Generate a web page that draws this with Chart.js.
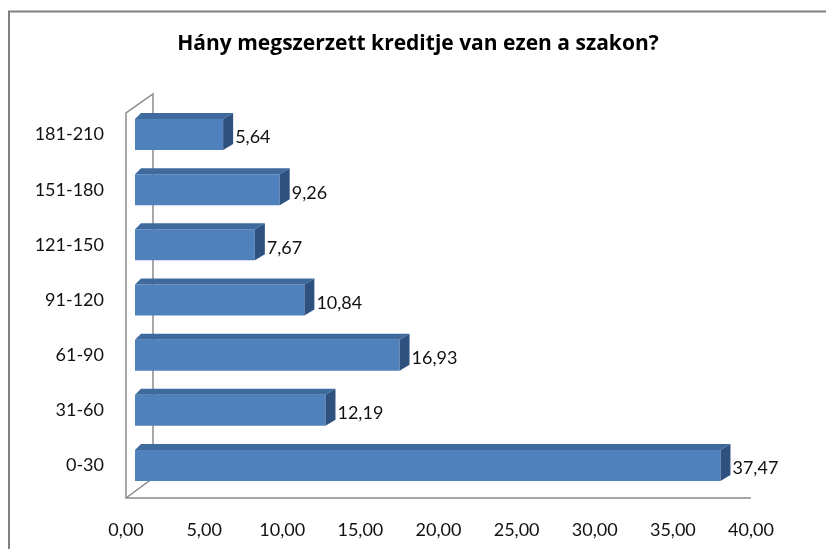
<!DOCTYPE html>
<html lang="hu">
<head>
    <meta charset="UTF-8">
    <title>Kreditek</title>
    <script src="https://cdn.jsdelivr.net/npm/chart.js"></script>
    <style>
        body { margin: 0; background: #fff; }
        #chart { display: block; }
    </style>
</head>
<body>
    <canvas id="chart" width="826" height="549"></canvas>

    <script>
        var chartTitle = 'Hány megszerzett kreditje van ezen a szakon?';
        var categories = ['181-210', '151-180', '121-150', '91-120', '61-90', '31-60', '0-30'];
        var values = [5.64, 9.26, 7.67, 10.84, 16.93, 12.19, 37.47];
        var xMin = 0, xMax = 40, xStep = 5;

        var fontFamily = 'Lato, "Open Sans", sans-serif';
        var depth = { shift: 9, dx: 10, dy: -6 };

        function huNum(v) {
            return v.toFixed(2).replace('.', ',');
        }

        // frame, title and the 3d walls/faces excel draws
        var excel3d = {
            id: 'excel3d',
            beforeDraw: function (chart) {
                var c = chart.ctx;
                c.save();
                c.strokeStyle = '#808080';
                c.lineWidth = 2;
                c.beginPath();
                c.moveTo(9, 549);
                c.lineTo(9, 11.5);
                c.lineTo(826, 11.5);
                c.stroke();

                c.fillStyle = '#000';
                c.font = 'bold 21px "Open Sans", sans-serif';
                c.textAlign = 'center';
                c.textBaseline = 'middle';
                c.fillText(chartTitle, 418, 44);
                c.restore();
            },
            beforeDatasetsDraw: function (chart) {
                var c = chart.ctx, a = chart.chartArea;
                c.save();
                c.strokeStyle = '#8c8c8c';
                c.lineWidth = 1.5;
                c.beginPath();
                c.moveTo(a.right, a.bottom + 5);
                c.lineTo(a.left, a.bottom + 5);
                c.lineTo(a.left, a.top + 6);
                c.lineTo(a.left + 27, a.top - 13);
                c.lineTo(a.left + 27, a.bottom - 15);
                c.lineTo(a.left, a.bottom + 5);
                c.stroke();
                c.restore();

                c.save();
                c.translate(depth.shift, 0);
            },
            afterDatasetsDraw: function (chart) {
                var c = chart.ctx;
                c.restore();
                var meta = chart.getDatasetMeta(0);
                c.save();
                meta.data.forEach(function (bar, i) {
                    var p = bar.getProps(['x', 'y', 'base', 'height'], true);
                    var l = p.base + depth.shift, r = p.x + depth.shift;
                    var t = p.y - p.height / 2, b = p.y + p.height / 2;

                    c.fillStyle = '#3F6A9E';
                    c.beginPath();
                    c.moveTo(l, t);
                    c.lineTo(r, t);
                    c.lineTo(r + depth.dx, t + depth.dy);
                    c.lineTo(l + 6, t + depth.dy);
                    c.closePath();
                    c.fill();

                    c.fillStyle = '#2E5180';
                    c.beginPath();
                    c.moveTo(r, t);
                    c.lineTo(r + depth.dx, t + depth.dy);
                    c.lineTo(r + depth.dx, b + depth.dy);
                    c.lineTo(r, b);
                    c.closePath();
                    c.fill();

                    c.fillStyle = '#111';
                    c.font = '18px ' + fontFamily;
                    c.textAlign = 'left';
                    c.textBaseline = 'middle';
                    c.fillText(huNum(values[i]), r + 12, p.y + 3);
                });
                c.restore();
            }
        };

        var ctx = document.getElementById('chart').getContext('2d');
        var myChart = new Chart(ctx, {
            type: 'bar',
            data: {
                labels: categories,
                datasets: [{
                    data: values,
                    backgroundColor: '#4F81BD',
                    borderWidth: 0,
                    categoryPercentage: 1,
                    barPercentage: 0.562
                }]
            },
            options: {
                indexAxis: 'y',
                responsive: false,
                animation: false,
                layout: {
                    padding: { top: 107, right: 75, bottom: 10, left: 0 }
                },
                plugins: {
                    legend: { display: false },
                    tooltip: { enabled: false },
                    title: { display: false }
                },
                scales: {
                    x: {
                        min: xMin,
                        max: xMax,
                        grid: { display: false, drawTicks: false },
                        border: { display: false },
                        ticks: {
                            stepSize: xStep,
                            padding: 23,
                            color: '#111',
                            font: { family: fontFamily, size: 18, lineHeight: 1.6 },
                            maxRotation: 0,
                            callback: function (value) {
                                return huNum(value);
                            }
                        },
                        afterFit: function (s) { s.height = 46; }
                    },
                    y: {
                        grid: { display: false, drawTicks: false },
                        border: { display: false },
                        ticks: {
                            padding: 22,
                            color: '#111',
                            font: { family: fontFamily, size: 18 }
                        },
                        afterFit: function (s) { s.width = 126; }
                    }
                }
            },
            plugins: [excel3d]
        });
    </script>
</body>
</html>
